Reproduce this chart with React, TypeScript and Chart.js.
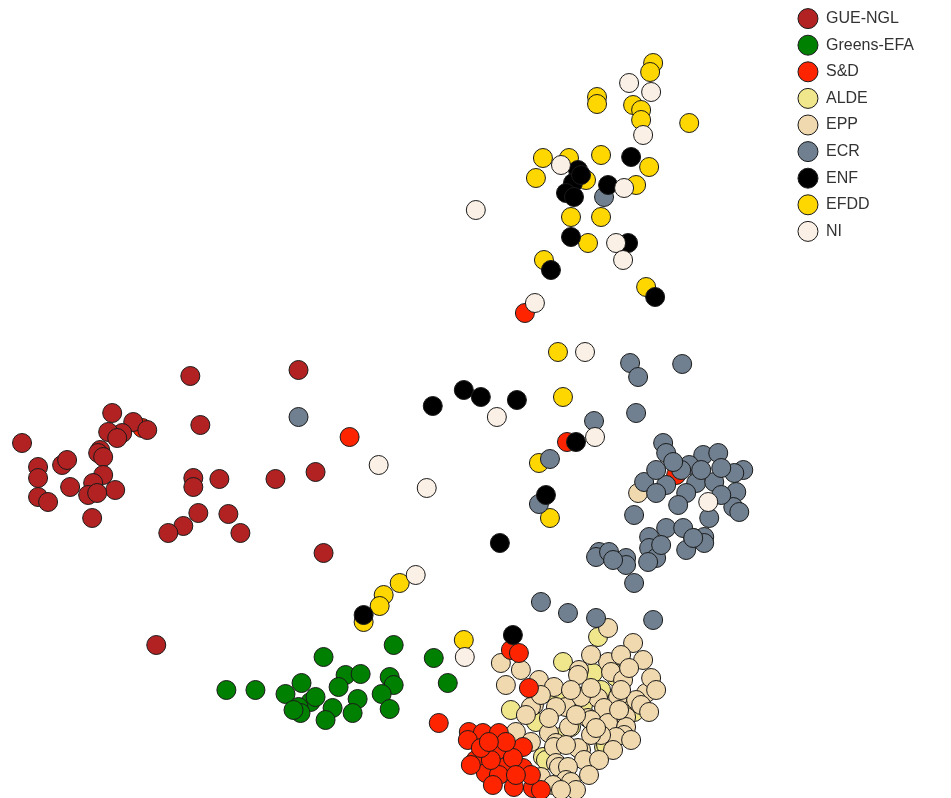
import React, { useEffect, useRef } from "react";
import { Chart, registerables } from "chart.js";

Chart.register(...registerables);

type Pt = [number, number];

// Party groups (legend order)
const categories: string[] = ["GUE-NGL", "Greens-EFA", "S&D", "ALDE", "EPP", "ECR", "ENF", "EFDD", "NI"];
const colors: string[] = ["#B22222", "#008000", "#FF2400", "#F0E68C", "#F0D9AE", "#708090", "#000000", "#FFD700", "#FAF0E6"];
// drawing priority (lower = drawn on top)
const drawOrder: number[] = [3, 4, 5, 8, 6, 2, 1, 7, 0];

// 2-D embedding coordinates (dim1, dim2)
const gueNgl: Pt[] = [
  [190, 376], [298, 370], [112, 413], [133, 422], [147, 430], [122, 433], [108, 432], [117, 438],
  [200, 425], [22, 443], [100, 450], [98, 453], [103, 457], [38, 467], [38, 478], [62, 465],
  [67, 460], [103, 475], [93, 483], [70, 487], [115, 490], [88, 495], [97, 493], [38, 497],
  [48, 502], [92, 518], [193, 478], [193, 487], [219, 479], [275, 479], [315, 472], [198, 513],
  [228, 514], [183, 526], [168, 533], [240, 533], [323, 553], [156, 645],
];
const greensEfa: Pt[] = [
  [393, 645], [323, 657], [433, 658], [226, 690], [255, 690], [285, 694], [301, 683], [345, 675],
  [360, 674], [338, 687], [389, 677], [393, 685], [381, 694], [357, 699], [447, 683], [310, 702],
  [298, 707], [300, 713], [293, 710], [332, 708], [325, 720], [352, 713], [389, 709], [315, 697],
];
const sd: Pt[] = [
  [524, 313], [349, 437], [566, 442], [675, 475], [142, 428], [438, 723], [510, 650], [518, 653],
  [528, 688], [468, 732], [482, 733], [498, 733], [497, 750], [522, 747], [475, 760], [505, 767],
  [522, 768], [485, 773], [498, 775], [513, 787], [532, 788], [467, 740], [490, 760], [512, 758],
  [480, 748], [540, 790], [470, 765], [492, 785], [505, 742], [530, 775], [488, 742], [515, 775],
];
const alde: Pt[] = [
  [562, 662], [597, 637], [592, 673], [613, 673], [510, 710], [535, 722], [542, 757], [633, 712],
  [570, 727], [603, 747], [557, 698], [605, 745], [545, 760], [615, 677], [600, 690], [582, 705],
  [620, 700], [560, 737],
];
const epp: Pt[] = [
  [607, 628], [632, 643], [642, 660], [500, 663], [607, 662], [578, 670], [610, 672], [622, 680],
  [538, 680], [505, 685], [553, 687], [577, 675], [645, 693], [617, 697], [597, 698], [580, 697],
  [565, 707], [533, 705], [555, 707], [530, 707], [603, 708], [625, 717], [587, 718], [590, 720],
  [607, 723], [625, 727], [568, 727], [548, 733], [515, 732], [623, 735], [615, 737], [555, 743],
  [530, 742], [580, 750], [577, 748], [553, 747], [583, 760], [555, 763], [558, 767], [567, 767],
  [540, 777], [565, 780], [552, 785], [570, 782], [637, 493], [635, 700], [600, 735], [590, 735],
  [620, 655], [628, 668], [650, 678], [655, 690], [640, 705], [648, 712], [630, 740], [612, 750],
  [598, 760], [588, 775], [575, 790], [560, 790], [575, 715], [570, 690], [590, 688], [618, 710],
  [595, 728], [565, 745], [548, 718], [540, 695], [520, 670], [525, 715], [590, 655], [620, 690],
];
const ecr: Pt[] = [
  [298, 417], [593, 421], [549, 459], [538, 504], [629, 363], [637, 377], [681, 364], [635, 413],
  [603, 197], [540, 602], [567, 613], [595, 618], [652, 620],
  [662, 443], [665, 453], [702, 455], [717, 453], [688, 465], [742, 470], [733, 473], [643, 482],
  [665, 485], [695, 483], [713, 482], [655, 493], [685, 493], [735, 492], [677, 505], [732, 507],
  [738, 512], [633, 515], [708, 518], [665, 528], [682, 528], [648, 537], [703, 537], [703, 543],
  [685, 550], [648, 548], [655, 558], [647, 562], [598, 552], [595, 557], [608, 552], [625, 558],
  [625, 565], [633, 583], [680, 470], [700, 470], [720, 468], [692, 538], [672, 462], [655, 470],
  [720, 495], [660, 545], [612, 560],
];
const enf: Pt[] = [
  [630, 157], [577, 170], [572, 183], [565, 193], [573, 197], [580, 175], [607, 185], [570, 237],
  [627, 243], [550, 270], [654, 297], [463, 390], [480, 397], [432, 406], [516, 400], [575, 442],
  [545, 495], [499, 543], [512, 635], [363, 615],
];
const efdd: Pt[] = [
  [652, 63], [649, 72], [596, 97], [596, 104], [632, 105], [640, 110], [640, 120], [688, 123],
  [600, 155], [648, 167], [542, 158], [535, 178], [568, 158], [585, 180], [635, 185], [570, 217],
  [600, 217], [587, 243], [543, 260], [645, 287], [557, 352], [562, 397], [538, 463], [549, 518],
  [399, 583], [383, 595], [379, 606], [363, 622], [463, 640], [692, 538],
];
const ni: Pt[] = [
  [628, 83], [650, 92], [642, 135], [560, 165], [623, 188], [475, 210], [615, 243], [622, 260],
  [534, 303], [584, 352], [496, 417], [594, 437], [378, 465], [426, 488], [707, 502], [415, 575],
  [464, 657],
];

const seriesPoints: Pt[][] = [gueNgl, greensEfa, sd, alde, epp, ecr, enf, efdd, ni];

export default function App() {
  const ref = useRef<HTMLCanvasElement>(null);

  useEffect(() => {
    if (!ref.current) return;
    const datasets = categories.map((name, i) => ({
      label: name,
      data: seriesPoints[i].map(([x, y]) => ({ x, y })),
      backgroundColor: colors[i],
      borderColor: "#1a1a1a",
      borderWidth: 1,
      pointRadius: 9.5,
      pointHoverRadius: 9.5,
      order: drawOrder[i],
      clip: false,
    }));
    const chart = new Chart(ref.current, {
      type: "scatter",
      data: { datasets },
      options: {
        animation: false,
        responsive: false,
        layout: { autoPadding: false, padding: { left: 0, top: 0, bottom: 0, right: 27 } },
        scales: {
          x: { display: false, min: 0, max: 786 },
          y: { display: false, min: 0, max: 798, reverse: true },
        },
        plugins: {
          tooltip: { enabled: false },
          legend: {
            position: "right",
            align: "start",
            labels: {
              usePointStyle: true,
              pointStyle: "circle",
              pointStyleWidth: 20,
              boxHeight: 14.14,
              padding: 10.6,
              color: "#333",
              font: { family: "'Liberation Sans', Arial, sans-serif", size: 16 },
              sort: (a: any, b: any) => a.datasetIndex - b.datasetIndex,
            },
          },
        },
      },
    } as any);
    return () => chart.destroy();
  }, []);

  return (
    <div style={{ position: "absolute", left: 0, top: 0, width: 951, height: 798, background: "#fff" }}>
      <canvas ref={ref} width={951} height={798} style={{ display: "block" }} />
    </div>
  );
}
